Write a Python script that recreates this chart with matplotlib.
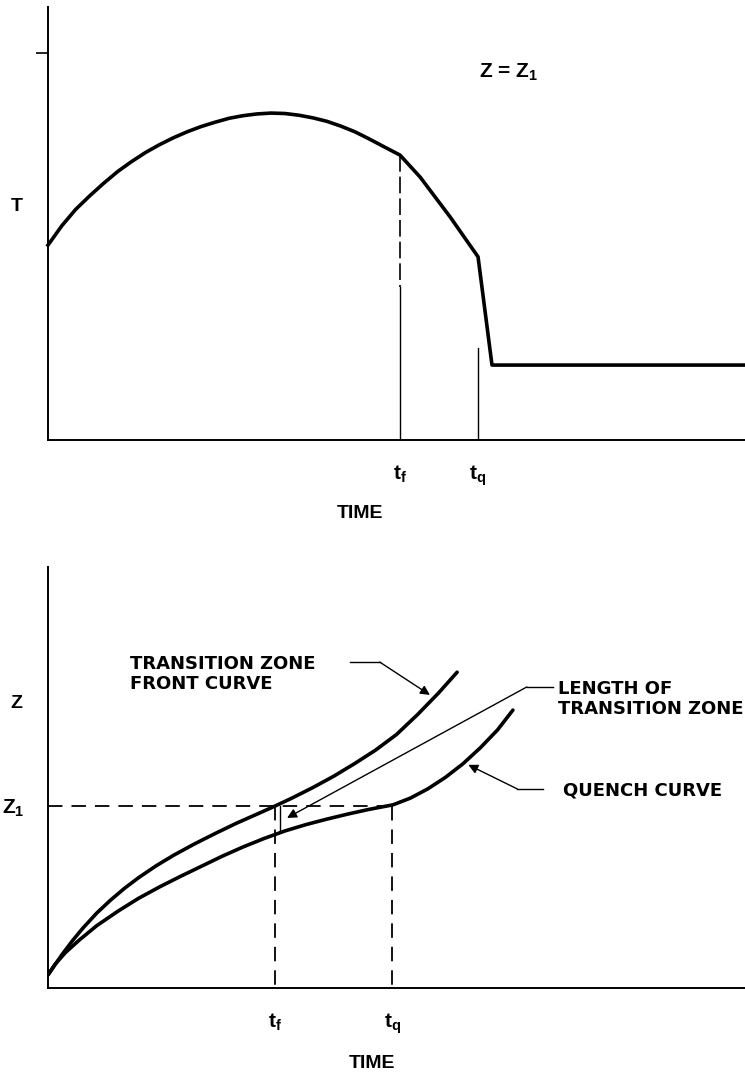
import matplotlib
matplotlib.use("Agg")
import matplotlib.pyplot as plt

plt.rcParams['font.family'] = ['Liberation Sans', 'DejaVu Sans']
plt.rcParams['font.weight'] = 'bold'
plt.rcParams['axes.labelweight'] = 'bold'
plt.rcParams['mathtext.default'] = 'regular'

# top panel: temperature history at Z = Z1 (time and T in arbitrary units, 0-100)
time_T = [0, 2, 4, 6, 8, 10, 12, 14, 16, 18, 20, 22, 24, 26, 28, 30, 32, 34,
          36, 38, 40, 42, 44, 46, 48, 50.5, 53.4, 57.7, 61.7, 63.7, 100]
temp_T = [45, 49.5, 53.3, 56.4, 59.3, 62, 64.3, 66.4, 68.2, 69.8, 71.2, 72.4,
          73.4, 74.3, 74.9, 75.3, 75.5, 75.4, 75.0, 74.4, 73.6, 72.5, 71.2,
          69.6, 67.9, 65.8, 60.7, 51.5, 42.3, 17.3, 17.3]
tf_top = 50.5
tq_top = 61.7
tf_top_curve = 65.8      # T where the t_f line meets the curve
tf_dash_end = 35.3       # dashed part ends here, solid below
tq_line_top = 21.2
T_tick = 89.4

# bottom panel: transition zone front and quench front positions vs time
time_front = [0, 1, 2, 3.5, 5, 7, 9, 11, 13, 15.5, 18, 21, 24, 27, 30, 32.3,
              35, 38, 41, 44, 47, 50, 53, 56, 58.7]
z_front = [3.1, 5.5, 7.9, 11.2, 14.2, 17.8, 20.9, 23.7, 26.2, 29.0, 31.5, 34.2,
           36.7, 39.1, 41.3, 43.0, 45.1, 47.6, 50.3, 53.3, 56.5, 60.2, 64.9,
           70.0, 75.0]
time_quench = [0, 1, 2.5, 4.5, 7, 10, 13, 16, 19, 22, 25, 28, 31, 34, 37, 40,
               43, 46, 49.5, 52, 54.5, 57, 59.5, 62, 64.5, 66.7]
z_quench = [3.1, 5.6, 8.4, 11.4, 14.8, 18.2, 21.3, 24.0, 26.5, 28.9, 31.3, 33.5,
            35.5, 37.3, 38.8, 40.1, 41.3, 42.4, 43.5, 45.1, 47.3, 50.0, 53.2,
            57.0, 61.3, 66.0]
tf_bot = 32.6
tq_bot = 49.4
z1 = 43.2

fig = plt.figure(figsize=(7.45, 10.76), dpi=100)
ax1 = fig.add_axes([0.0644, 0.5911, 0.9356, 0.4024])
ax2 = fig.add_axes([0.0644, 0.0818, 0.9356, 0.3913])

for ax in (ax1, ax2):
    ax.set_xlim(0, 100)
    ax.set_ylim(0, 100)
    for s in ('top', 'right'):
        ax.spines[s].set_visible(False)
    for s in ('left', 'bottom'):
        ax.spines[s].set_linewidth(1.4)
        ax.spines[s].set_color('black')

# ---- top
ax1.plot(time_T, temp_T, color='black', lw=2.6, clip_on=False,
         solid_joinstyle='round')
ax1.plot([tf_top, tf_top], [tf_top_curve, tf_dash_end], color='black', lw=1.2,
         linestyle=(0, (10, 3)))
ax1.plot([tf_top, tf_top], [tf_dash_end, 0], color='black', lw=1.0)
ax1.plot([tq_top, tq_top], [tq_line_top, 0], color='black', lw=1.0)
ax1.set_xticks([tf_top, tq_top], ['t$_f$', 't$_q$'], fontsize=15)
ax1.set_yticks([T_tick], [''])
ax1.tick_params(axis='x', length=0, pad=17)
ax1.tick_params(axis='y', length=9, width=1.2, direction='out')
ax1.set_xlabel('TIME', fontsize=14)
ax1.xaxis.set_label_coords(0.447, -0.15)
ax1.set_ylabel('T', fontsize=14, rotation=0)
ax1.yaxis.set_label_coords(-0.045, 0.52)
ax1.text(61.8, 85, 'Z = Z$_1$', fontsize=15, va='center')

# ---- bottom
ax2.plot(time_front, z_front, color='black', lw=2.6, solid_capstyle='round')
ax2.plot(time_quench, z_quench, color='black', lw=2.6, solid_capstyle='round')
ax2.plot([0, tq_bot], [z1, z1], color='black', lw=1.3, linestyle=(0, (8, 5)))
ax2.plot([tf_bot, tf_bot], [z1, 0], color='black', lw=1.3, linestyle=(0, (8, 5)))
ax2.plot([tq_bot, tq_bot], [z1, 0], color='black', lw=1.3, linestyle=(0, (8, 5)))
ax2.plot([tf_bot + 0.7, tf_bot + 0.7], [z1, 37], color='black', lw=1.0)
ax2.set_xticks([tf_bot, tq_bot], ['t$_f$', 't$_q$'], fontsize=15)
ax2.set_yticks([z1], ['Z$_1$'], fontsize=15)
ax2.tick_params(axis='x', length=0, pad=17)
ax2.tick_params(axis='y', length=0, pad=17)
ax2.set_xlabel('TIME', fontsize=14)
ax2.xaxis.set_label_coords(0.465, -0.16)
ax2.set_ylabel('Z', fontsize=14, rotation=0)
ax2.yaxis.set_label_coords(-0.045, 0.655)

arrow = dict(arrowstyle='-|>', color='black', lw=1.0, mutation_scale=14,
             shrinkA=0, shrinkB=0)
note = dict(fontsize=13, family='DejaVu Sans', weight='bold', va='center',
            linespacing=1.15)
# transition zone front curve
ax2.text(11.8, 74.6, 'TRANSITION ZONE\nFRONT CURVE', **note)
ax2.plot([43.3, 47.6], [77.4, 77.4], color='black', lw=1.0)
ax2.annotate('', xy=(54.8, 69.6), xytext=(47.6, 77.4), arrowprops=arrow)
# length of transition zone
ax2.text(73.2, 68.6, 'LENGTH OF\nTRANSITION ZONE', **note)
ax2.plot([68.7, 72.5], [71.5, 71.5], color='black', lw=1.0)
ax2.annotate('', xy=(34.3, 40.4), xytext=(68.7, 71.5), arrowprops=arrow)
# quench curve
ax2.text(73.9, 47.0, 'QUENCH CURVE', **note)
ax2.plot([67.3, 71.0], [47.3, 47.3], color='black', lw=1.0)
ax2.annotate('', xy=(60.3, 53.0), xytext=(67.3, 47.3), arrowprops=arrow)

fig.savefig('out.png', dpi=100)
